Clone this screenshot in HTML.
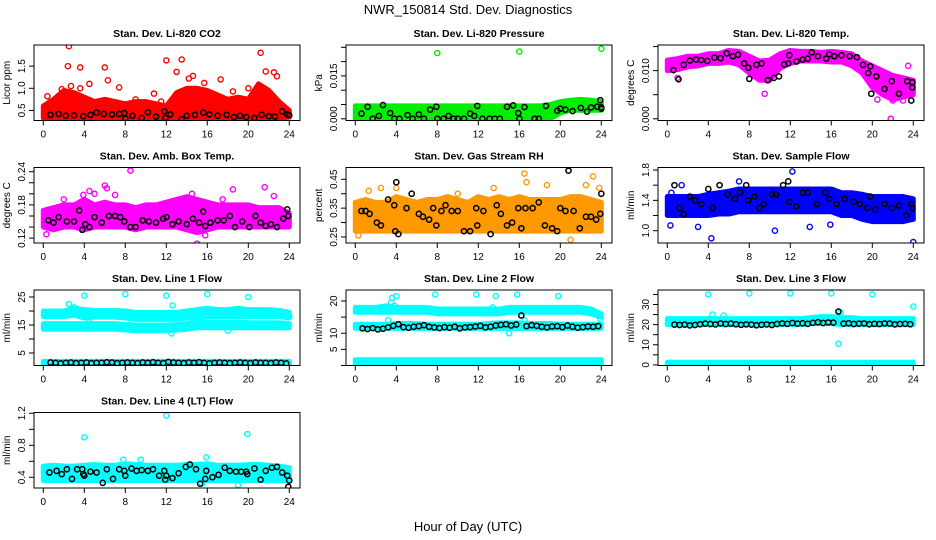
<!DOCTYPE html>
<html><head><meta charset="utf-8"><style>
body{margin:0;background:#fff}
svg{display:block;font-family:"Liberation Sans",sans-serif}
</style></head><body>
<svg id="chart" width="936" height="540" viewBox="0 0 936 540">
<text x="468" y="14" text-anchor="middle" font-size="13">NWR_150814  Std. Dev. Diagnostics</text>
<text x="468" y="531" text-anchor="middle" font-size="13">Hour of Day (UTC)</text>
</svg>
<script>
const xTicks=[0,4,8,12,16,20,24];
const bandHours=[0,1,2,3,4,5,6,7,8,9,10,11,12,13,14,15,16,17,18,19,20,21,22,23,24];
const lineBlackHours=[0.7,1.2,1.7,2.2,2.7,3.2,3.7,4.2,4.7,5.2,5.7,6.2,6.7,7.2,7.7,8.2,8.7,9.2,9.7,10.2,10.7,11.2,11.7,12.2,12.7,13.2,13.7,14.2,14.7,15.2,15.7,16.2,16.7,17.2,17.7,18.2,18.7,19.2,19.7,20.2,20.7,21.2,21.7,22.2,22.7,23.2,23.7];

// CO2
const co2Low=[0.33,0.33,0.33,0.33,0.33,0.33,0.33,0.33,0.33,0.33,0.33,0.33,0.33,0.33,0.33,0.33,0.33,0.33,0.33,0.33,0.33,0.33,0.33,0.33,0.35];
const co2High=[0.6,0.75,0.95,0.9,0.8,0.7,0.75,0.7,0.65,0.7,0.7,0.65,0.6,0.9,1.0,1.0,0.95,0.85,0.75,0.8,0.75,1.1,0.95,0.7,0.5];
const co2OutH=[2.5,2.4,3.6,6,12,13.5,13,21.2,21.7,22.5,22.8,4.5,6.3,2.7,15.7,17.3,14.6,14.2,7.4,0.4,1.8,3.6,20,18.5,10.8,9,11.5];
const co2OutV=[1.95,1.5,1.47,1.47,1.63,1.65,1.37,1.8,1.38,1.36,1.27,1.1,1.18,1.05,1.12,1.2,1.28,1.22,1.02,0.82,0.98,1.0,1.0,0.93,0.88,0.75,0.7];
const co2BlkH=[0.7,1.5,2.2,3,3.9,4.6,5.2,5.9,6.7,7.4,7.9,8,8.7,9.6,10.2,11,11.8,11.9,12.4,13.5,14,14.8,15.6,16.2,17,17.9,18.6,19.2,19.8,20.6,21.3,22,22.6,23.3,23.8,24];
const co2BlkV=[0.4,0.42,0.38,0.39,0.37,0.4,0.45,0.42,0.41,0.42,0.44,0.32,0.38,0.33,0.46,0.36,0.48,0.33,0.41,0.3,0.38,0.4,0.45,0.41,0.38,0.4,0.35,0.38,0.35,0.33,0.4,0.37,0.36,0.48,0.41,0.39];

// Pressure
const presLow=[0,0,0,0,0,0,0,0,0,0,0,0,0,0,0,0,0,0,0,0,0.002,0.003,0.003,0.003,0.003];
const presHigh=[0.0045,0.0045,0.0045,0.0045,0.0045,0.0045,0.0045,0.0045,0.0045,0.0045,0.0045,0.0045,0.0045,0.0045,0.0045,0.0045,0.0045,0.0045,0.0045,0.005,0.006,0.0065,0.0068,0.0065,0.006];
const presOutH=[8,16,24];
const presOutV=[0.023,0.0235,0.0245];
const presBlkH=[0.6,1.2,1.7,2.3,2.7,3.4,3.8,4.3,5.1,5.6,6.2,6.7,7.3,7.9,8,8.6,9.1,9.6,10,10.6,11.2,11.6,11.9,12.4,13.1,13.6,14.1,14.8,15.4,15.9,16,16.5,17.5,17.9,18.6,19.7,20,20.5,21.2,22,22.6,23,23.6,23.9,24,24];
const presBlkV=[0.0018,0.0042,0,0.001,0.0048,0.002,0,0,0.0013,0,0.0015,0,0.0032,0.0042,0,0,0.001,0,0,0,0.0018,0.001,0.0045,0,0,0,0,0.0042,0.0047,0.002,0,0.0041,0,0,0.0045,0.0028,0.0035,0.0032,0.0027,0.0038,0.0025,0.004,0.0042,0.0065,0.004,0.0035];

// Li-820 temp
const tempLow=[0.01,0.0102,0.0108,0.011,0.0115,0.0115,0.0118,0.0112,0.0095,0.008,0.008,0.0105,0.0115,0.012,0.012,0.012,0.0118,0.0118,0.011,0.0095,0.0065,0.005,0.004,0.0045,0.005];
const tempHigh=[0.0122,0.0125,0.013,0.013,0.0135,0.0135,0.0142,0.014,0.013,0.012,0.0122,0.0135,0.0142,0.014,0.014,0.0138,0.014,0.0138,0.0135,0.012,0.011,0.01,0.009,0.0085,0.008];
const tempOutH=[21.8,9.5,1,23.5,20.5,22,23];
const tempOutV=[0,0.0052,0.0085,0.011,0.004,0.0038,0.0038];
const tempBlkH=[0.6,1.1,1.6,2.2,2.8,3.3,3.9,4.6,5.2,5.8,6.4,6.9,7.5,7.9,8,8.7,9.2,9.8,10.4,10.9,11.4,11.8,11.9,12.6,13.2,13.7,14.1,14.7,15.5,15.8,16.3,17,17.8,18.5,19.1,19.6,19.8,19.9,20.4,21.2,21.9,22.6,23.4,23.9,23.9,23.8];
const tempBlkV=[0.0101,0.0082,0.0112,0.0121,0.0123,0.0122,0.012,0.0127,0.0126,0.0136,0.013,0.0133,0.0115,0.0106,0.0083,0.0112,0.0115,0.008,0.0085,0.0088,0.0113,0.0115,0.0132,0.0119,0.0123,0.0125,0.0138,0.013,0.0125,0.0134,0.013,0.0132,0.013,0.0128,0.0112,0.0095,0.0109,0.0052,0.0088,0.0062,0.0078,0.0052,0.0078,0.0076,0.0065,0.0038];

// Amb box temp
const ambLow=[0.14,0.135,0.14,0.14,0.135,0.14,0.14,0.14,0.14,0.135,0.14,0.14,0.14,0.14,0.135,0.13,0.135,0.14,0.14,0.14,0.14,0.14,0.14,0.14,0.14];
const ambHigh=[0.17,0.175,0.18,0.18,0.19,0.18,0.185,0.18,0.18,0.175,0.18,0.18,0.185,0.19,0.195,0.19,0.185,0.18,0.18,0.18,0.18,0.175,0.175,0.175,0.165];
const ambOutH=[8.5,6,6.2,4.5,5,3.9,7,18.5,21.6,22.5,14.5,0.3,15,15.8,2,17.5];
const ambOutV=[0.242,0.215,0.21,0.205,0.2,0.198,0.198,0.208,0.212,0.196,0.2,0.127,0.11,0.125,0.19,0.19];
const ambBlkH=[0.5,1,1.5,2.3,3,3.5,3.8,4.1,4.5,5,5.7,6.4,7,7.5,7.9,8.5,9,9.7,10.3,11,11.7,12,12.6,13.2,14,14.6,15.2,15.6,15.8,16.3,17,17.6,18.2,18.7,19.4,20.1,20.7,21.2,21.7,22.2,22.8,23.4,23.8,23.9];
const ambBlkV=[0.152,0.148,0.158,0.15,0.15,0.17,0.135,0.145,0.14,0.158,0.148,0.16,0.16,0.158,0.15,0.14,0.14,0.152,0.15,0.148,0.155,0.158,0.145,0.15,0.145,0.155,0.148,0.168,0.142,0.148,0.152,0.152,0.16,0.14,0.15,0.14,0.16,0.148,0.142,0.145,0.14,0.155,0.172,0.16];

// Gas stream RH
const rhLow=[0.27,0.27,0.27,0.27,0.27,0.27,0.27,0.27,0.27,0.27,0.27,0.27,0.27,0.27,0.27,0.27,0.27,0.27,0.27,0.27,0.27,0.27,0.27,0.27,0.27];
const rhHigh=[0.37,0.38,0.37,0.37,0.39,0.38,0.37,0.38,0.38,0.39,0.38,0.37,0.39,0.38,0.39,0.38,0.39,0.38,0.38,0.38,0.38,0.39,0.39,0.38,0.37];
const rhOutH=[16.5,16.7,18.7,23.2,23.8,1.3,2.5,4,21,0.3,13.5,22.5,10];
const rhOutV=[0.47,0.44,0.43,0.46,0.42,0.41,0.42,0.42,0.24,0.255,0.42,0.43,0.4];
const rhBlkH=[0.6,1,1.4,2.1,2.5,3.2,3.8,3.9,4,4.2,5,5.5,6.2,6.6,7.2,7.6,7.9,8.4,8.8,9.4,10,10.6,11.2,11.8,11.9,12.5,13.2,13.8,14.2,14.8,15.3,15.9,16.2,16.6,17.3,17.9,18.5,19.2,19.7,20,20.5,20.8,21.3,21.9,22.5,23,23.5,23.9,24];
const rhBlkV=[0.34,0.34,0.33,0.3,0.29,0.38,0.36,0.27,0.44,0.26,0.35,0.4,0.33,0.32,0.31,0.35,0.29,0.34,0.36,0.34,0.34,0.27,0.27,0.35,0.29,0.34,0.26,0.36,0.33,0.29,0.3,0.35,0.28,0.35,0.35,0.37,0.29,0.28,0.27,0.35,0.34,0.48,0.34,0.28,0.32,0.32,0.31,0.33,0.4];

// Sample flow
const sfLow=[1.2,1.2,1.2,1.2,1.2,1.22,1.22,1.25,1.25,1.25,1.25,1.25,1.25,1.25,1.25,1.25,1.25,1.2,1.2,1.15,1.12,1.12,1.12,1.12,1.15];
const sfHigh=[1.45,1.45,1.45,1.45,1.48,1.5,1.52,1.55,1.55,1.55,1.55,1.55,1.55,1.55,1.55,1.55,1.55,1.5,1.5,1.48,1.45,1.45,1.45,1.45,1.42];
const sfOutH=[24,4.3,10.5,12.2,3,13.9,7,15.9,0.4,0.3,1.4];
const sfOutV=[0.85,0.9,1.0,1.78,1.05,1.05,1.65,1.08,1.5,1.07,1.6];
const sfBlkH=[0.7,1.2,1.6,2.2,2.7,3.3,4,4.4,5.1,5.9,6.6,7.1,7.7,7.9,8.5,9,9.4,10.2,10.6,11.3,11.8,11.9,12.6,13.2,13.7,14.6,15.4,15.8,16.5,17.3,18.2,18.8,19.5,19.8,20.3,21.2,21.9,22.6,23.3,23.8,23.9];
const sfBlkV=[1.6,1.3,1.22,1.45,1.4,1.35,1.55,1.3,1.6,1.48,1.42,1.5,1.6,1.4,1.45,1.3,1.35,1.48,1.48,1.6,1.65,1.38,1.32,1.5,1.5,1.35,1.5,1.42,1.35,1.42,1.38,1.35,1.3,1.45,1.28,1.35,1.3,1.33,1.2,1.35,1.3];

// Line 1
const l1LowA=[18,18,18,18.5,17.5,17.8,17.8,17.8,17.5,17,17,17,17,17,17.5,17.5,18,18,18,18,18,18,18,18,17.5];
const l1HighA=[20,20,20,21,20.5,20.2,20.2,20.2,20,19.5,19.5,19.5,19.5,19.5,20,20.5,21,20.5,20.5,21,20.5,20.5,20.5,20.2,19.5];
const l1LowB=[13.5,13.5,13.5,13.5,13.5,13.5,13.5,13.5,13.2,13,13,13,13,13.2,13.5,14,14,14,14,14,14,14,14,14,14];
const l1HighB=[15.5,15.5,15.5,15.5,15.5,15.5,15.5,15.5,15.2,15,15,15,15,15.2,15.5,16,16,16,16,16,15.8,15.8,15.8,15.8,15.5];
const l1LowC=[1,1,1,1,1,1,1,1,1,1,1,1,1,1,1,1,1,1,1,1,1,1,1,1,1];
const l1HighC=[2,2,2,2,2,2,2,2,2,2,2,2,2,2,2,2,2,2,2,2,2,2,2,2,2];
const l1OutH=[4,8,12,16,20,2.5,12.6,3,12.5,4.5,18,24];
const l1OutV=[25.5,26,25.5,26,25,22.5,22,21.3,12,16,13,18];
const l1BlkV=[1.6,1.5,1.3,1.5,1.6,1.4,1.5,1.6,1.4,1.5,1.5,1.7,1.6,1.4,1.5,1.6,1.5,1.4,1.6,1.5,1.7,1.5,1.4,1.8,1.6,1.5,1.4,1.6,1.5,1.7,1.5,1.3,1.5,1.6,1.5,1.4,1.5,1.6,1.5,1.4,1.6,1.5,1.5,1.4,1.6,1.5,1.3];

// Line 2
const l2LowA=[16.5,16.5,16.5,16.5,16.5,16.5,16.5,16.5,16,16,16,16,16,16,16,16.5,16.5,16.5,16.5,16.5,16.5,16.5,16.5,16,15];
const l2HighA=[18,18,18,18.5,18,18,18,18,17.5,17.5,17.5,17.5,17.5,17.5,17.5,18,18,18,18,18,18,18,18,17.5,16];
const l2LowB=[11.5,11.5,11.5,11.5,11.5,11.5,11.5,11.5,11.5,11.5,11.5,11.5,11.5,11.5,11.5,11.5,11.5,11.5,11.5,11.5,11.5,11.5,11.5,11.5,11.5];
const l2HighB=[12.8,12.8,12.8,12.8,13,13,13,12.8,12.8,12.8,12.8,12.8,12.8,13,13.2,13.2,13.2,13,13,13,12.8,12.8,12.8,12.8,12.8];
const l2LowC=[0.5,0.5,0.5,0.5,0.5,0.5,0.5,0.5,0.5,0.5,0.5,0.5,0.5,0.5,0.5,0.5,0.5,0.5,0.5,0.5,0.5,0.5,0.5,0.5,0.5];
const l2HighC=[1.8,1.8,1.8,1.8,1.8,1.8,1.8,1.8,1.8,1.8,1.8,1.8,1.8,1.8,1.8,1.8,1.8,1.8,1.8,1.8,1.8,1.8,1.8,1.8,1.8];
const l2OutH=[3.5,3.6,4,3.8,7.8,11.8,13.7,15.8,19.8,13.4,13.5,15,16.5,3.2,23.9];
const l2OutV=[19.5,21,21.5,18.5,22,22,21.5,22,21.5,18,17,10,14,14,14.5];
const l2BlkV=[11.5,11.3,11.6,11.2,11.4,11.8,12.3,12.8,11.9,11.7,12.0,12.2,12.5,12.0,11.8,11.6,11.9,11.7,12.0,11.5,11.8,11.9,12.1,12.3,11.8,12.0,12.4,12.6,12.8,12.4,12.7,15.5,12.2,12.5,12.3,12.0,11.8,12.1,12.2,11.9,12.4,12.0,11.7,11.9,12.1,12.0,12.2];

// Line 3
const l3LowA=[20,20,20,20,20,20,20,20,20,20,20,20,20,20,20.5,20.5,20.5,20,20,20,20,20,20,20,20];
const l3HighA=[23,23,23,23,23,23,23,23,23,23,23,23,23,23,23.5,24,24,23.5,23.5,23,23,23,23,23,23];
const l3LowC=[0,0,0,0,0,0,0,0,0,0,0,0,0,0,0,0,0,0,0,0,0,0,0,0,0];
const l3HighC=[1.3,1.3,1.3,1.3,1.3,1.3,1.3,1.3,1.3,1.3,1.3,1.3,1.3,1.3,1.3,1.3,1.3,1.3,1.3,1.3,1.3,1.3,1.3,1.3,1.3];
const l3OutH=[4,8,12,16,20,24,4.4,5.5,16.9,16.7,0.5];
const l3OutV=[35,35.5,35.5,35.5,35,29,25,24.5,26,10.5,22.5];
const l3BlkV=[20,19.8,20,19.6,19.8,20.2,20.5,20.3,20.1,20.6,20.3,20.5,20.2,19.9,20.1,20,19.7,19.9,20.1,19.8,20.3,20.6,20.4,20.8,20.5,20.7,20.4,20.9,21.2,20.8,21.1,21,26.5,20.5,20.7,20.3,20.5,20.6,20.2,20.4,20.3,20.6,20.5,20.1,20.3,20.4,20.2];

// Line 4
const l4Low=[0.36,0.36,0.36,0.36,0.36,0.36,0.36,0.36,0.36,0.36,0.36,0.36,0.36,0.36,0.36,0.36,0.36,0.36,0.36,0.36,0.36,0.36,0.36,0.36,0.36];
const l4High=[0.54,0.55,0.54,0.54,0.55,0.56,0.55,0.55,0.57,0.56,0.55,0.55,0.55,0.55,0.56,0.56,0.57,0.55,0.55,0.55,0.56,0.56,0.55,0.54,0.52];
const l4OutH=[12,4,19.9,15.9,19,15.5,9.5,7.8,0.2];
const l4OutV=[1.17,0.9,0.94,0.65,0.3,0.32,0.62,0.62,0.46];
const l4BlkH=[0.6,1.3,1.8,2.3,2.8,3.3,3.8,3.9,4,4.6,5.2,5.8,6.2,6.8,7.4,7.9,8,8.6,9.1,9.6,10.2,10.7,11.3,11.8,11.9,12,12.6,13.2,13.9,14.3,14.9,15.3,15.8,15.9,16.5,17.1,17.7,18.2,18.8,19.3,19.8,19.9,20.6,21.2,21.7,22.3,22.8,23.3,23.8,23.9,24];
const l4BlkV=[0.46,0.48,0.44,0.5,0.38,0.5,0.5,0.44,0.42,0.47,0.46,0.33,0.5,0.38,0.5,0.48,0.42,0.51,0.48,0.49,0.48,0.5,0.42,0.48,0.37,0.42,0.39,0.45,0.53,0.56,0.5,0.32,0.38,0.48,0.4,0.43,0.52,0.48,0.47,0.47,0.47,0.44,0.51,0.37,0.48,0.52,0.53,0.46,0.42,0.28,0.36];

const NS='http://www.w3.org/2000/svg';
const svg=document.getElementById('chart');
function mk(tag,attrs,parent){const e=document.createElementNS(NS,tag);for(const k in attrs)e.setAttribute(k,attrs[k]);(parent||svg).appendChild(e);return e;}

const colLeft=[34,346,658], rowTop=[45,167.5,290,412.5], boxW=266, boxH=75.5;
const panels=[
 {name:'co2',title:'Stan. Dev. Li-820 CO2',ylab:'Licor ppm',c:0,r:0,ymin:0.273,ymax:1.977,ticks:[0.5,1,1.5],labs:['0.5','1.0','1.5'],color:'#ff0000',bands:[[co2Low,co2High]],oh:co2OutH,ov:co2OutV,bh:co2BlkH,bv:co2BlkV},
 {name:'pressure',title:'Stan. Dev. Li-820 Pressure',ylab:'kPa',c:1,r:0,ymin:-0.0006,ymax:0.0258,ticks:[0,0.005,0.01,0.015,0.02,0.025],labs:['0.000','','','0.015','',''],color:'#00ee00',bands:[[presLow,presHigh]],oh:presOutH,ov:presOutV,bh:presBlkH,bv:presBlkV},
 {name:'li820-temp',title:'Stan. Dev. Li-820 Temp.',ylab:'degrees C',c:2,r:0,ymin:-0.00036,ymax:0.01533,ticks:[0,0.005,0.01,0.015],labs:['0.000','','0.010',''],color:'#ff00ff',bands:[[tempLow,tempHigh]],oh:tempOutH,ov:tempOutV,bh:tempBlkH,bv:tempBlkV},
 {name:'amb-box-temp',title:'Stan. Dev. Amb. Box Temp.',ylab:'degrees C',c:0,r:1,ymin:0.1112,ymax:0.2476,ticks:[0.12,0.14,0.16,0.18,0.2,0.22,0.24],labs:['0.12','','','0.18','','','0.24'],color:'#ff00ff',bands:[[ambLow,ambHigh]],oh:ambOutH,ov:ambOutV,bh:ambBlkH,bv:ambBlkV},
 {name:'gas-stream-rh',title:'Stan. Dev. Gas Stream RH',ylab:'percent',c:1,r:1,ymin:0.229,ymax:0.491,ticks:[0.25,0.3,0.35,0.4,0.45],labs:['0.25','','0.35','','0.45'],color:'#ff9900',bands:[[rhLow,rhHigh]],oh:rhOutH,ov:rhOutV,bh:rhBlkH,bv:rhBlkV},
 {name:'sample-flow',title:'Stan. Dev. Sample Flow',ylab:'ml/min',c:2,r:1,ymin:0.838,ymax:1.833,ticks:[1.0,1.2,1.4,1.6,1.8],labs:['1.0','','1.4','','1.8'],color:'#0000ff',bands:[[sfLow,sfHigh]],oh:sfOutH,ov:sfOutV,bh:sfBlkH,bv:sfBlkV},
 {name:'line1-flow',title:'Stan. Dev. Line 1 Flow',ylab:'ml/min',c:0,r:2,ymin:0.54,ymax:27.5,ticks:[5,10,15,20,25],labs:['5','','15','','25'],color:'#00ffff',bands:[[l1LowA,l1HighA],[l1LowB,l1HighB],[l1LowC,l1HighC]],oh:l1OutH,ov:l1OutV,bh:lineBlackHours,bv:l1BlkV},
 {name:'line2-flow',title:'Stan. Dev. Line 2 Flow',ylab:'ml/min',c:1,r:2,ymin:0,ymax:23.4,ticks:[0,5,10,15,20],labs:['','5','10','','20'],color:'#00ffff',bands:[[l2LowA,l2HighA],[l2LowB,l2HighB],[l2LowC,l2HighC]],oh:l2OutH,ov:l2OutV,bh:lineBlackHours,bv:l2BlkV},
 {name:'line3-flow',title:'Stan. Dev. Line 3 Flow',ylab:'ml/min',c:2,r:2,ymin:-0.3,ymax:37.2,ticks:[0,5,10,15,20,25,30,35],labs:['0','','10','','20','','30',''],color:'#00ffff',bands:[[l3LowA,l3HighA],[l3LowC,l3HighC]],oh:l3OutH,ov:l3OutV,bh:lineBlackHours,bv:l3BlkV},
 {name:'line4-flow',title:'Stan. Dev. Line 4 (LT) Flow',ylab:'ml/min',c:0,r:3,ymin:0.266,ymax:1.21,ticks:[0.4,0.6,0.8,1.0,1.2],labs:['0.4','','0.8','','1.2'],color:'#00ffff',bands:[[l4Low,l4High]],oh:l4OutH,ov:l4OutV,bh:l4BlkH,bv:l4BlkV}
];

panels.forEach(p=>{
 const L=colLeft[p.c], T=rowTop[p.r], B=T+boxH;
 const xs=h=>L+9.3+h*(246/24);
 const ys=v=>B-(v-p.ymin)/(p.ymax-p.ymin)*boxH;
 const g=mk('g',{});
 
 
 const clip=mk('clipPath',{id:'clip-'+p.name},g);
 mk('rect',{x:L,y:T,width:boxW,height:boxH},clip);
 const plot=mk('g',{'clip-path':'url(#clip-'+p.name+')'},g);
 p.bands.forEach((bd,bi)=>{
  let pts=bandHours.map((h,i)=>xs(h)+','+ys(bd[1][i]));
  pts=pts.concat(bandHours.map((h,i)=>xs(h)+','+ys(bd[0][i])).reverse());
  const poly=mk('polygon',{points:pts.join(' '),fill:p.color,stroke:p.color,'stroke-width':5,'stroke-linejoin':'round'},plot);
  
  
 });
 p.oh.forEach((h,i)=>{
  const c=mk('circle',{cx:xs(h),cy:ys(p.ov[i]),r:2.6,fill:'none',stroke:p.color,'stroke-width':1.4},plot);
  
  
 });
 p.bh.forEach((h,i)=>{
  const c=mk('circle',{cx:xs(h),cy:ys(p.bv[i]),r:2.6,fill:'none',stroke:'#000','stroke-width':1.5},plot);
  
  
 });
 const box=mk('rect',{x:L,y:T,width:boxW,height:boxH,fill:'none',stroke:'#000','stroke-width':1},g);
 
 
 const t=mk('text',{x:L+boxW/2,y:T-8,'text-anchor':'middle','font-size':10.5,'font-weight':'bold'},g);
 t.textContent=p.title;
 
 
 const xa=mk('g',{},g);
 
 
 xTicks.forEach(h=>{
  mk('line',{x1:xs(h),x2:xs(h),y1:B,y2:B+5,stroke:'#000'},xa);
  const tl=mk('text',{x:xs(h),y:B+17,'text-anchor':'middle','font-size':10},xa);
  tl.textContent=h;
 });
 const ya=mk('g',{},g);
 
 
 p.ticks.forEach((v,i)=>{
  const y=ys(v);
  mk('line',{x1:L,x2:L-5,y1:y,y2:y,stroke:'#000'},ya);
  if(p.labs[i]){
   const tl=mk('text',{x:L-9,y:y,'text-anchor':'middle','font-size':10,transform:'rotate(-90 '+(L-9)+' '+y+')'},ya);
   tl.textContent=p.labs[i];
  }
 });
 const yl=mk('text',{x:L-24,y:T+boxH/2,'text-anchor':'middle','font-size':10,transform:'rotate(-90 '+(L-24)+' '+(T+boxH/2)+')'},g);
 yl.textContent=p.ylab;
 
 
});
</script>
</body></html>
